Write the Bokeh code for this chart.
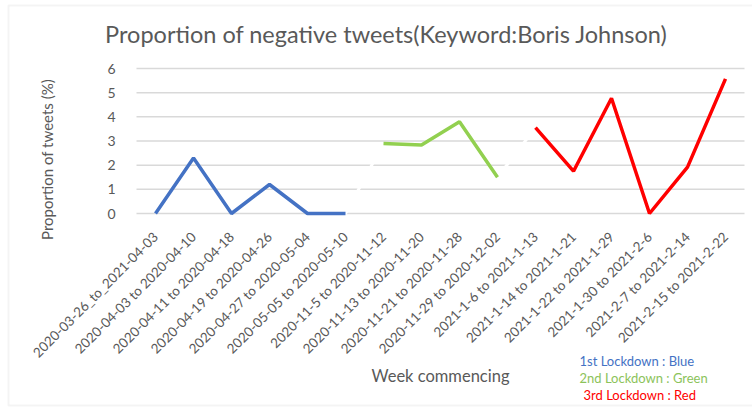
from math import pi
from bokeh.plotting import figure
from bokeh.models import Range1d, Label, BoxAnnotation, FixedTicker
from bokeh.embed import file_html
from bokeh.resources import INLINE

categories = [
    "2020-03-26_to_2021-04-03", "2020-04-03 to 2020-04-10", "2020-04-11 to 2020-04-18",
    "2020-04-19 to 2020-04-26", "2020-04-27 to 2020-05-04", "2020-05-05 to 2020-05-10",
    "2020-11-5 to 2020-11-12", "2020-11-13 to 2020-11-20", "2020-11-21 to 2020-11-28",
    "2020-11-29 to 2020-12-02", "2021-1-6 to 2021-1-13", "2021-1-14 to 2021-1-21",
    "2021-1-22 to 2021-1-29", "2021-1-30 to 2021-2-6", "2021-2-7 to 2021-2-14",
    "2021-2-15 to 2021-2-22",
]
first_lockdown = [0, 2.3, 0, 1.2, 0, 0]
second_lockdown = [2.9, 2.83, 3.8, 1.5]
third_lockdown = [3.55, 1.75, 4.77, 0, 1.92, 5.57]
y_ticks = [0, 1, 2, 3, 4, 5, 6]

FONT = "Lato"
GRAY = "#595959"

# page layout (pixels)
W, H = 752, 407
PLOT_L, PLOT_R, PLOT_T, PLOT_B = 136, 744, 68, 213
Y_MAX = 6

n = len(categories)
px_cat = (PLOT_R - PLOT_L) / n
px_unit = (PLOT_B - PLOT_T) / Y_MAX
x_range = Range1d(-0.5 - PLOT_L / px_cat, n - 0.5 + (W - PLOT_R) / px_cat)
y_range = Range1d(-(H - PLOT_B) / px_unit, Y_MAX + PLOT_T / px_unit)

p = figure(width=W, height=H, x_range=x_range, y_range=y_range,
           output_backend="svg", toolbar_location=None, min_border=0)
p.outline_line_color = None
p.background_fill_color = "white"
p.border_fill_color = "white"
p.grid.visible = False

# horizontal gridlines across the plot area
p.segment(x0=[-0.5] * len(y_ticks), x1=[n - 0.5] * len(y_ticks), y0=y_ticks, y1=y_ticks,
          line_color="#d9d9d9", line_width=1.5)

xs = list(range(n))
p.xaxis.fixed_location = 0
p.xaxis.ticker = FixedTicker(ticks=xs)
p.xaxis.major_label_overrides = {i: c for i, c in enumerate(categories)}
p.yaxis.fixed_location = -0.5
p.yaxis.ticker = FixedTicker(ticks=y_ticks)

for ax in (p.xaxis, p.yaxis):
    ax.axis_line_color = None
    ax.major_tick_line_color = None
    ax.minor_tick_line_color = None
    ax.major_label_text_color = GRAY
    ax.major_label_text_font = FONT
p.xaxis.major_label_text_font_size = "13.5px"
p.yaxis.major_label_text_font_size = "14px"
p.xaxis.major_label_orientation = pi / 4
p.xaxis.major_label_standoff = 15
p.yaxis.major_label_standoff = 15

n1 = len(first_lockdown)
n2 = len(second_lockdown)
all_vals = first_lockdown + second_lockdown + third_lockdown
p.line(xs, all_vals, line_color="white", line_width=3)
p.line(xs[:n1], first_lockdown, line_color="#4472C4", line_width=3.5)
p.line(xs[n1:n1 + n2], second_lockdown, line_color="#92D050", line_width=3.5)
p.line(xs[n1 + n2:], third_lockdown, line_color="#FF0000", line_width=3.5)


def lab(text, x, y_top, size, color=GRAY, angle=0, align="left"):
    p.add_layout(Label(x=x, y=H - y_top, x_units="screen", y_units="screen", text=text,
                       text_font=FONT, text_font_size=size, text_color=color,
                       angle=angle, text_align=align, text_baseline="middle"))


lab("Proportion of negative tweets(Keyword:Boris Johnson)", 386, 33, "23.5px", align="center")
lab("Proportion of tweets (%)", 46, 159, "15px", angle=pi / 2, align="center")
lab("Week commencing", 440, 375, "16.5px", align="center")
lab("1st Lockdown : Blue", 579, 360, "13px", color="#4472C4")
lab("2nd Lockdown : Green", 579, 377, "13px", color="#8CC35A")
lab("3rd Lockdown : Red", 583, 394, "13px", color="#FF0000")

p.add_layout(BoxAnnotation(left=8, right=W + 10, top=H - 5, bottom=H - 405,
                           left_units="screen", right_units="screen",
                           top_units="screen", bottom_units="screen",
                           fill_alpha=0, line_color="#d9d9d9", line_width=2))

open("out.html", "w").write(file_html(p, INLINE))
